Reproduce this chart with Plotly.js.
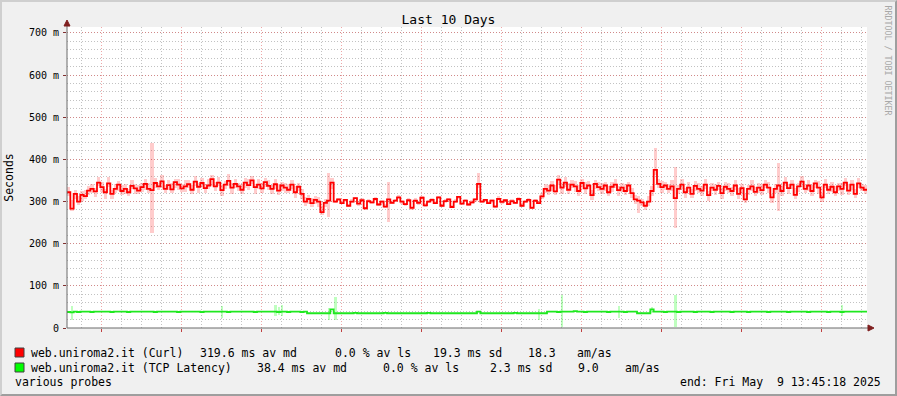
<!DOCTYPE html>
<html><head><meta charset="utf-8">
<script src="https://cdn.plot.ly/plotly-3.0.1.min.js"></script>
<style>
html,body{margin:0;padding:0;background:#f0f0f0;overflow:hidden;}
#wrap{width:893px;height:392px;border-style:solid;border-width:2px;border-color:#cfcfcf #9e9e9e #9e9e9e #cfcfcf;}
#chart{width:893px;height:392px;}
</style></head>
<body><div id="wrap"><div id="chart"></div></div>
<script>
// ---------- data ----------
const rangeStart = '2025-04-29 13:45:18';
const rangeEnd   = '2025-05-09 13:45:18';
const dayLabels = ['Wed 30 Apr','Thu 01 May','Fri 02 May','Sat 03 May','Sun 04 May',
                   'Mon 05 May','Tue 06 May','Wed 07 May','Thu 08 May','Fri 09 May'];
const dayLabelTimes = ['2025-04-30 12:00','2025-05-01 12:00','2025-05-02 12:00','2025-05-03 12:00',
                       '2025-05-04 12:00','2025-05-05 12:00','2025-05-06 12:00','2025-05-07 12:00',
                       '2025-05-08 12:00','2025-05-09 12:00'];
const yTickVals = [0,100,200,300,400,500,600,700];
const yTickText = ['0','100 m','200 m','300 m','400 m','500 m','600 m','700 m'];

// hourly median, web.uniroma2.it (Curl), ms
const curlMedian = [
 322,283,318,300,316,313,326,330,324,345,
 334,322,343,318,330,340,325,330,322,337,
 331,326,334,342,330,327,344,336,348,330,
 339,329,346,340,331,336,341,328,347,335,
 344,332,338,353,336,345,327,340,349,333,
 342,336,328,345,339,350,334,340,331,346,
 337,330,341,326,338,333,328,340,322,335,
 318,300,306,296,304,300,275,297,302,345,
 300,305,296,304,290,300,308,295,303,284,
 301,298,306,293,300,288,305,297,302,310,
 300,294,303,285,302,297,309,291,300,304,
 296,310,290,301,305,287,300,311,295,302,
 293,298,305,342,300,304,296,302,288,306,
 299,303,294,301,297,306,290,300,304,285,
 302,296,312,330,326,338,324,352,333,345,
 328,340,336,325,344,331,338,315,342,334,
 330,338,322,335,340,327,333,325,338,320,
 305,302,298,290,300,325,375,342,334,338,
 330,336,308,330,340,322,333,318,337,330,
 326,340,315,333,328,337,320,335,330,325,
 338,318,332,305,330,336,323,333,327,340,
 333,310,330,338,325,345,332,340,316,336,
 347,330,338,325,343,333,310,340,328,335,
 322,336,330,345,326,340,318,343,333,328];
// smoke spread above / below the median (ms)
const curlSmokeUp = [
 12,20,10,14,8,15,10,12,9,14,12,8,16,10,12,9,15,11,8,13,
 10,14,9,12,15,113,11,9,14,10,12,16,8,13,10,15,9,12,14,10,
 13,9,15,11,10,14,12,8,16,10,12,9,14,11,15,10,8,13,12,9,
 14,10,12,15,9,11,13,10,14,8,12,10,9,12,8,10,14,9,66,12,
 4,3,5,3,4,6,3,4,5,3,4,3,5,4,3,6,41,4,3,5,
 4,3,5,4,6,3,4,5,3,4,5,3,4,6,3,4,5,3,4,5,
 3,5,4,26,4,3,5,4,3,6,4,3,5,4,3,4,6,3,5,4,
 3,6,8,12,
 14,10,15,12,9,13,16,10,12,14,9,15,11,13,10,12,
 13,9,15,11,14,10,12,16,9,13,10,12,8,10,14,12,52,11,14,9,
 12,15,74,10,13,9,14,11,12,15,10,13,9,12,14,10,13,11,15,9,
 12,14,10,13,9,15,11,12,14,10,13,9,12,53,11,14,10,12,15,9,
 13,10,12,14,9,15,11,13,10,12,14,9,13,11,15,10,12,14,9,11];
const curlSmokeDown = [
 10,5,12,9,14,8,11,10,13,9,12,15,8,11,10,14,9,12,10,8,
 13,9,11,14,10,102,12,8,15,10,11,9,14,12,8,13,10,11,9,14,
 10,12,9,15,11,8,13,10,12,14,9,11,10,13,12,9,15,10,11,12,
 9,13,11,10,14,12,8,11,13,9,12,10,11,9,10,12,8,11,39,15,
 3,4,3,5,3,4,3,5,4,3,5,3,4,3,5,4,54,3,4,3,
 5,4,3,4,3,5,4,3,4,5,3,4,3,5,4,3,4,5,3,4,
 4,3,5,10,3,4,3,5,4,3,4,5,3,4,3,5,4,3,4,3,
 4,3,6,10,
 10,13,9,12,14,10,11,9,13,12,10,14,9,11,12,10,
 11,14,10,12,9,13,11,10,14,12,10,30,9,11,10,13,12,10,14,11,
 9,12,71,13,10,14,11,9,12,10,13,11,14,9,12,10,13,11,9,12,
 10,13,11,9,14,12,10,13,11,9,12,14,10,60,12,9,13,11,10,14,
 12,9,13,11,10,14,12,9,11,13,10,12,14,9,11,13,10,12,9,11];

// hourly median, web.uniroma2.it (TCP Latency), ms
const tcpMedian = [
 38,37,39,38,39,39,39,38,39,39,39,39,39,38,39,39,39,39,38,39,
 39,39,39,39,39,39,38,39,39,39,39,39,39,38,39,39,39,39,39,39,
 38,39,39,39,39,39,39,39,38,39,39,39,39,39,39,39,38,39,39,39,
 39,39,39,38,39,39,38,39,39,39,38,39,
 35,35,35,35,35,35,35,44,
 35,35,35,35,35,35,36,35,35,35,35,35,35,35,35,36,35,35,35,35,
 35,35,35,35,35,35,35,35,36,35,35,35,35,35,35,35,35,35,35,35,
 35,35,35,39,35,35,35,35,35,35,35,35,35,35,36,35,35,35,35,35,
 35,35,35,35,
 39,39,39,38,39,39,39,39,40,39,39,38,39,39,39,39,
 39,39,38,39,39,39,39,38,39,39,39,35,35,35,35,44,39,39,39,38,
 39,39,39,38,39,39,39,39,38,39,39,39,39,38,39,39,39,39,39,38,
 39,39,39,39,38,39,39,39,39,39,38,39,39,39,39,39,38,39,39,39,
 39,39,38,39,39,39,39,39,38,39,39,39,38,39,39,39,39,39,39,39];
// visible TCP smoke bars: hour index, low, high (ms)
const tcpSmokeHours = [1, 46, 62, 63, 64, 78, 80, 141, 148, 165, 175, 182, 232];
const tcpSmokeLow   = [19, 24, 29, 30, 28, 19, 19, 19,  2, 24, 36,  2, 28];
const tcpSmokeHigh  = [52, 52, 55, 50, 55, 47, 74, 45, 78, 52, 50, 78, 55];

// ---------- build ----------
const H = 3600000;
const t0 = Date.UTC(2025,3,29,13,45,18);
const fmt = ms => new Date(ms).toISOString().slice(0,19).replace('T',' ');
const n = curlMedian.length;
const lineX = [], barX = [];
for (let i = 0; i <= n; i++) lineX.push(fmt(t0 + i*H));
for (let i = 0; i < n; i++) barX.push(fmt(t0 + (i+0.5)*H));
const curlLine = curlMedian.concat([curlMedian[n-1]]);
const tcpLine = tcpMedian.concat([tcpMedian[n-1]]);
const curlBase = curlMedian.map((v,i) => v - curlSmokeDown[i]);
const curlSpan = curlMedian.map((v,i) => curlSmokeDown[i] + curlSmokeUp[i]);
const tcpBarX = tcpSmokeHours.map(h => fmt(t0 + (h+0.5)*H));
const tcpSpan = tcpSmokeHigh.map((v,i) => v - tcpSmokeLow[i]);

const traces = [
  {type:'bar', x:barX, base:curlBase, y:curlSpan, width:H,
   marker:{color:'rgba(255,0,0,0.2)', line:{width:0}}, hoverinfo:'skip'},
  {type:'bar', x:tcpBarX, base:tcpSmokeLow, y:tcpSpan, width:0.7*H,
   marker:{color:'rgba(0,255,0,0.25)', line:{width:0}}, hoverinfo:'skip'},
  {type:'scatter', mode:'lines', x:lineX, y:tcpLine, line:{shape:'hv', color:'#1fe81f', width:1.8}},
  {type:'scatter', mode:'lines', x:lineX, y:curlLine, line:{shape:'hv', color:'#ff0000', width:1.8}}
];

// pixel helpers (image coords -> paper coords)
const PL = 67, PR = 867, PT = 27, PB = 328;
const X = px => (px - PL) / (PR - PL);
const Y = py => (PB - py) / (PB - PT);

const MONO = 'DejaVu Sans Mono';
const MG = 'rgba(222,80,80,0.5)';
const mg = 'rgba(143,143,143,0.55)';
const DASH = '1px,2px';

const legFont = {family:MONO, size:11.5, color:'#000'};
function txt(text, px, py, anchor){
  return {text:text, x:X(px), y:Y(py), xref:'paper', yref:'paper', showarrow:false,
          xanchor:anchor||'left', yanchor:'middle', font:legFont, borderpad:0};
}
const annotations = [
  txt('web.uniroma2.it (Curl)', 30, 353),
  txt('319.6 ms av md', 199, 353),
  txt('0.0 % av ls', 334, 353),
  txt('19.3 ms sd', 432, 353),
  txt('18.3', 527, 353),
  txt('am/as', 576, 353),
  txt('web.uniroma2.it (TCP Latency)', 30, 368),
  txt('38.4 ms av md', 256, 368),
  txt('0.0 % av ls', 382, 368),
  txt('2.3 ms sd', 489, 368),
  txt('9.0', 577, 368),
  txt('am/as', 624, 368),
  txt('various probes', 14, 382),
  txt('end: Fri May \u00a09 13:45:18 2025', 882, 382, 'right'),
  {text:'RRDTOOL / TOBI OETIKER', x:X(887.5), y:Y(60), xref:'paper', yref:'paper', showarrow:false,
   textangle:90, xanchor:'center', yanchor:'middle', font:{family:MONO, size:8.3, color:'#a8a8a8'}}
];

const shapes = [
  {type:'rect', xref:'paper', yref:'paper', x0:X(15), x1:X(24), y0:Y(357), y1:Y(348),
   fillcolor:'#ff0000', line:{color:'#404040', width:1}},
  {type:'rect', xref:'paper', yref:'paper', x0:X(15), x1:X(24), y0:Y(372), y1:Y(363),
   fillcolor:'#00ff00', line:{color:'#404040', width:1}},
  {type:'line', xref:'paper', yref:'paper', x0:X(67), x1:X(67), y0:Y(328), y1:Y(22),
   line:{color:'#6b6b6b', width:1}},
  {type:'line', xref:'paper', yref:'paper', x0:X(67), x1:X(870), y0:Y(328), y1:Y(328),
   line:{color:'#6b6b6b', width:1}},
  {type:'path', xref:'paper', yref:'paper',
   path:`M ${X(64)},${Y(26)} L ${X(70)},${Y(26)} L ${X(67)},${Y(20)} Z`,
   fillcolor:'#7f1f1f', line:{color:'#7f1f1f', width:1}},
  {type:'path', xref:'paper', yref:'paper',
   path:`M ${X(868)},${Y(325)} L ${X(868)},${Y(331)} L ${X(874)},${Y(328)} Z`,
   fillcolor:'#7f1f1f', line:{color:'#7f1f1f', width:1}}
];

const layout = {
  width:893, height:392,
  margin:{l:65, r:28, t:25, b:66, pad:0},
  paper_bgcolor:'#f0f0f0', plot_bgcolor:'#ffffff',
  font:{family:MONO, size:10, color:'#000'},
  showlegend:false, barmode:'overlay', bargap:0,
  title:{text:'Last 10 Days', font:{family:MONO, size:13, color:'#000'},
         xref:'container', x:0.5, xanchor:'center', yref:'container', y:1-17/392, yanchor:'middle'},
  xaxis:{type:'date', range:[rangeStart, rangeEnd], tickmode:'linear', tick0:'2025-04-30 00:00:00',
         dtick:86400000, showticklabels:false, ticks:'outside', ticklen:3, tickcolor:'#c04040',
         showgrid:true, gridcolor:MG, griddash:DASH, gridwidth:1,
         minor:{tickmode:'linear', tick0:'2025-04-30 00:00:00', dtick:21600000, showgrid:true,
                gridcolor:mg, griddash:DASH, gridwidth:1, ticks:''},
         showline:false, zeroline:false, fixedrange:true},
  xaxis2:{type:'date', overlaying:'x', anchor:'y', side:'bottom', range:[rangeStart, rangeEnd],
          tickmode:'array', tickvals:dayLabelTimes, ticktext:dayLabels, ticks:'',
          showgrid:false, showline:false, zeroline:false, fixedrange:true,
          tickfont:{family:MONO, size:10, color:'#000'}},
  yaxis:{range:[0,714], tickmode:'array', tickvals:yTickVals, ticktext:yTickText,
         ticks:'outside', ticklen:3, tickcolor:'#803030', ticklabelstandoff:2,
         showgrid:true, gridcolor:MG, griddash:DASH, gridwidth:1,
         minor:{tickmode:'linear', tick0:0, dtick:20, showgrid:true, gridcolor:mg, griddash:DASH, gridwidth:1, ticks:''},
         showline:false, zeroline:false, fixedrange:true,
         tickfont:{family:MONO, size:10, color:'#000'},
         title:{text:'Seconds', font:{family:MONO, size:11.5, color:'#000'}, standoff:12}},
  annotations:annotations, shapes:shapes
};

Plotly.newPlot('chart', traces, layout, {staticPlot:true, displayModeBar:false});
</script>
</body></html>
